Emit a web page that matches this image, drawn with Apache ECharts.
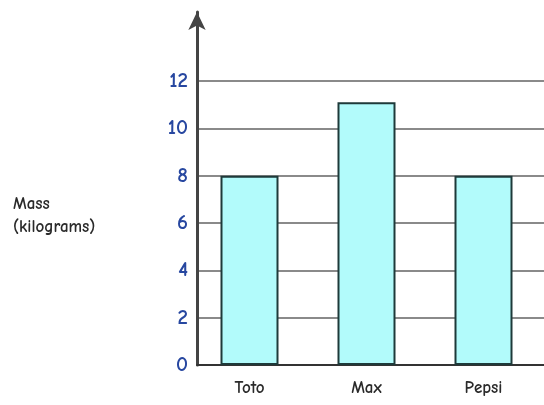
<!DOCTYPE html>
<html>
<head>
<meta charset="utf-8">
<script src="https://cdn.jsdelivr.net/npm/echarts@6/dist/echarts.min.js"></script>
<style>
  html, body { margin: 0; padding: 0; background: #fff; }
  #chart { width: 544px; height: 405px; }
</style>
</head>
<body>
<div id="chart"></div>
<script>
// data
var names = ['Toto', 'Max', 'Pepsi'];
var mass = [8, 11.1, 8];
var yTicks = [0, 2, 4, 6, 8, 10, 12];

var font = '"Comic Sans MS", "Comic Neue", Lato, "DejaVu Sans", sans-serif';

function drawChart() {
    var myChart = echarts.init(document.getElementById('chart'));
    var option = {
        animation: false,
        title: {
            text: 'Mass\n(kilograms)',
            left: 8,
            top: 188,
            textStyle: { fontFamily: font, fontSize: 17, fontWeight: 'bold', color: '#2a2a2a', lineHeight: 23 }
        },
        grid: [
            // bars
            { left: 191, right: 2, top: 81, bottom: 40 },
            // ticks + gridlines
            { left: 197, right: 0, top: 81, bottom: 40 },
            // axis with arrow
            { left: 197, right: 0, top: 12, bottom: 40 }
        ],
        xAxis: [{
            gridIndex: 0,
            type: 'category',
            data: names,
            axisLine: { show: false },
            axisTick: { show: false },
            axisLabel: { margin: 15, fontFamily: font, fontSize: 17, fontWeight: 'bold', color: '#2a2a2a' }
        }, {
            gridIndex: 1,
            type: 'value',
            min: 0, max: 1,
            axisLine: { show: true, lineStyle: { color: '#333', width: 2 } },
            axisTick: { show: false },
            axisLabel: { show: false },
            splitLine: { show: false }
        }, {
            gridIndex: 2,
            type: 'value',
            min: 0, max: 1,
            show: false
        }],
        yAxis: [{
            gridIndex: 0,
            type: 'value',
            min: 0, max: 12,
            show: false
        }, {
            gridIndex: 1,
            type: 'value',
            min: yTicks[0],
            max: yTicks[yTicks.length - 1],
            interval: 2,
            axisLine: { show: false },
            axisTick: { show: false },
            axisLabel: { margin: 9, fontFamily: font, fontSize: 21, fontWeight: 'bold', color: '#2747a0' },
            splitLine: { show: true, lineStyle: { color: '#8a8a8a', width: 2 } }
        }, {
            gridIndex: 2,
            type: 'value',
            min: 0, max: 1,
            axisLine: {
                show: true,
                symbol: ['none', 'arrow'],
                symbolSize: [13, 18],
                symbolOffset: [0, 0],
                lineStyle: { color: '#444', width: 3 }
            },
            axisTick: { show: false },
            axisLabel: { show: false },
            splitLine: { show: false }
        }],
        series: [{
            type: 'bar',
            xAxisIndex: 0,
            yAxisIndex: 0,
            data: mass,
            barWidth: 58,
            itemStyle: { color: '#b2fbfb', borderColor: '#1e3a3a', borderWidth: 2 }
        }]
    };
    myChart.setOption(option);
}
drawChart();
</script>
</body>
</html>
